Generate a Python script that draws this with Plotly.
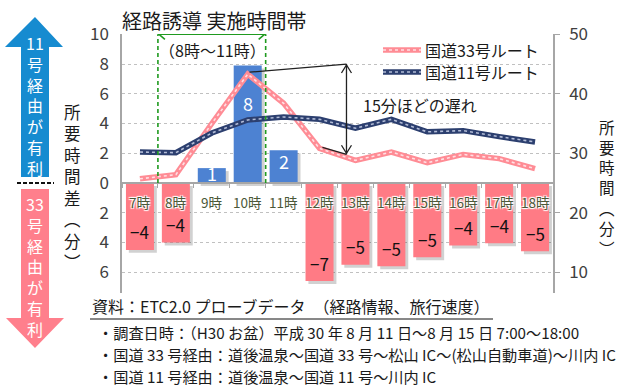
import plotly.graph_objects as go

# ---------------- data ----------------
hours = ["7時", "8時", "9時", "10時", "11時", "12時", "13時", "14時", "15時", "16時", "17時", "18時"]
diff_min = [-4.5, -4.0, 1.0, 7.9, 2.2, -6.6, -5.5, -5.6, -5.0, -4.2, -4.05, -4.6]
diff_labels = ["−4", "−4", "1", "8", "2", "−7", "−5", "−5", "−5", "−4", "−4", "−5"]
route33_min = [25.7, 26.4, 35.0, 43.3, 38.4, 30.8, 28.8, 30.2, 28.4, 29.8, 29.1, 27.4]
route11_min = [30.2, 30.1, 33.4, 35.6, 36.1, 35.7, 34.2, 35.7, 33.6, 33.8, 32.8, 31.9]
left_tickvals = [10, 8, 6, 4, 2, 0, -2, -4, -6]
left_ticktext = ["10", "8", "6", "4", "2", "0", "2", "4", "6"]
right_tickvals = [10, 20, 30, 40, 50]
series_names = ["国道33号ルート", "国道11号ルート"]

FONT = "Noto Sans CJK JP"
W, H = 618, 392
PL, PR, PT, PB = 122, 553, 34, 293

Y_RANGE = [-7.4, 10.02]
Y2_RANGE = [25 + 2.5 * Y_RANGE[0], 25 + 2.5 * Y_RANGE[1]]

PINK_BAR = "#ff7b85"
BLUE_BAR = "#4d82d2"
PINK_LINE = "#ff8c95"
NAVY_LINE = "#2c3f6f"
GREEN = "#1f9a1f"
GRAY = "#a6a6a6"


def px(x):
    return (x - PL) / (PR - PL)


def py(y):
    return (PB - y) / (PB - PT)


fig = go.Figure()

# bar shadows
fig.add_trace(go.Bar(
    x=hours, y=diff_min, base=-0.2, width=0.78, offset=-0.31,
    marker=dict(color="rgba(0,0,0,0.18)", line=dict(width=0)),
    hoverinfo="skip", showlegend=False))
# bars
fig.add_trace(go.Bar(
    x=hours, y=diff_min, width=0.78,
    marker=dict(color=[BLUE_BAR if v > 0 else PINK_BAR for v in diff_min], line=dict(width=0)),
    showlegend=False))

# lines (right axis)
DOT33 = "rgba(255,228,231,0.95)"
DOT11 = "rgba(185,195,220,0.95)"
for vals, col, dotcol in [(route33_min, PINK_LINE, DOT33), (route11_min, NAVY_LINE, DOT11)]:
    fig.add_trace(go.Scatter(x=hours, y=vals, yaxis="y2", mode="lines",
                             line=dict(color=col, width=5.5), showlegend=False))
    fig.add_trace(go.Scatter(x=hours, y=vals, yaxis="y2", mode="lines",
                             line=dict(color=dotcol, width=1.6, dash="dot"),
                             showlegend=False, hoverinfo="skip"))

annotations = []
shapes = []


def txt(x, y, s, size, color="#1a1a1a", xanchor="center", yanchor="middle", **kw):
    annotations.append(dict(xref="paper", yref="paper", x=px(x), y=py(y), text=s,
                            showarrow=False, xanchor=xanchor, yanchor=yanchor,
                            font=dict(family=FONT, size=size, color=color), **kw))


# hour labels and value labels
glow = "1px 1px 1px #fff, -1px -1px 1px #fff, 1px -1px 1px #fff, -1px 1px 1px #fff"
for h, v, lab in zip(hours, diff_min, diff_labels):
    annotations.append(dict(xref="x", yref="y", x=h, y=0, yshift=-19, text=h,
                            showarrow=False, borderpad=0,
                            font=dict(family=FONT, size=13.5, color="#4b5838", shadow=glow)))
    if v < 0:
        annotations.append(dict(xref="x", yref="y", x=h, y=v, yshift=18, text=lab,
                                showarrow=False, borderpad=0,
                                font=dict(family=FONT, size=17, color="#111")))
    else:
        annotations.append(dict(xref="x", yref="y", x=h, y=0.68 * v, text=lab,
                                showarrow=False, borderpad=0,
                                font=dict(family=FONT, size=18, color="#ffffff")))

# title and range note
txt(120, 20, "経路誘導 実施時間帯", 20, xanchor="left")
txt(212, 50, "（8時～11時）", 16)

# green range markers
for xb in [0.5, 3.5]:
    shapes.append(dict(type="line", xref="x", yref="y", x0=xb, x1=xb, y0=0, y1=10,
                       line=dict(color=GREEN, width=1.6, dash="4px,3px")))
shapes.append(dict(type="line", xref="x", yref="y", x0=0.5, x1=3.5, y0=10, y1=10,
                   line=dict(color=GREEN, width=1.6)))
shapes.append(dict(type="path", xref="x", yref="y", xsizemode="pixel", ysizemode="pixel",
                   xanchor=0.5, yanchor=10, path="M 7,5 L 1,0 L 7,-5",
                   line=dict(color=GREEN, width=1.6)))
shapes.append(dict(type="path", xref="x", yref="y", xsizemode="pixel", ysizemode="pixel",
                   xanchor=3.5, yanchor=10, path="M -7,5 L -1,0 L -7,-5",
                   line=dict(color=GREEN, width=1.6)))

# delay annotation
BLK = "#222222"
shapes.append(dict(type="line", xref="x", yref="y", x0=3.05, y0=7.45, x1=5.75, y1=8.0,
                   line=dict(color=BLK, width=1.3)))
shapes.append(dict(type="line", xref="x", yref="y", x0=5.08, y0=2.4, x1=5.75, y1=1.93,
                   line=dict(color=BLK, width=1.3)))
shapes.append(dict(type="line", xref="x", yref="y", x0=5.75, y0=1.93, x1=5.75, y1=8.0,
                   line=dict(color=BLK, width=1.3)))
shapes.append(dict(type="path", xref="x", yref="y", xsizemode="pixel", ysizemode="pixel",
                   xanchor=5.75, yanchor=8.0, path="M -5,-9 L 0,-1 L 5,-9",
                   line=dict(color=BLK, width=1.3)))
shapes.append(dict(type="path", xref="x", yref="y", xsizemode="pixel", ysizemode="pixel",
                   xanchor=5.75, yanchor=1.93, path="M -5,9 L 0,1 L 5,9",
                   line=dict(color=BLK, width=1.3)))
txt(420, 105, "15分ほどの遅れ", 16)

# manual legend
for i, (name, col, dotcol) in enumerate([(series_names[0], PINK_LINE, DOT33),
                                         (series_names[1], NAVY_LINE, DOT11)]):
    yy = 50 + 22 * i
    shapes.append(dict(type="line", xref="paper", yref="paper", x0=px(383), x1=px(421),
                       y0=py(yy), y1=py(yy), line=dict(color=col, width=5.5)))
    shapes.append(dict(type="line", xref="paper", yref="paper", x0=px(383), x1=px(421),
                       y0=py(yy), y1=py(yy), line=dict(color=dotcol, width=1.6, dash="dot")))
    txt(423, yy, name, 16, xanchor="left")


# left side arrows
def poly(points):
    return "M " + " L ".join(f"{px(x):.5f},{py(y):.5f}" for x, y in points) + " Z"


shapes.append(dict(type="path", xref="paper", yref="paper",
                   path=poly([(35, 17), (63, 47), (49, 47), (49, 177), (21, 177), (21, 47), (5, 47)]),
                   fillcolor="#168bd0", line=dict(width=0)))
shapes.append(dict(type="path", xref="paper", yref="paper",
                   path=poly([(21, 189), (49, 189), (49, 318), (64, 318), (35, 348), (6, 318), (21, 318)]),
                   fillcolor="#ff7f8c", line=dict(width=0)))
shapes.append(dict(type="line", xref="paper", yref="paper", x0=px(17), x1=px(54),
                   y0=py(183), y1=py(183), line=dict(color="#111", width=2, dash="4px,2px")))


def vtext(chars, x, yc, size, color):
    txt(x, yc, "<br>".join(chars), size, color=color)


vtext(["11", "号", "経", "由", "が", "有", "利"], 35, 105, 16, "#ffffff")
vtext(["33", "号", "経", "由", "が", "有", "利"], 35, 266, 16, "#ffffff")
vtext(["所", "要", "時", "間", "差", "︵", "分", "︶"], 72, 187, 16.5, "#1a1a1a")
vtext(["所", "要", "時", "間", "︵", "分", "︶"], 607, 188, 15.5, "#1a1a1a")

# source notes
txt(90, 306, "資料：ETC2.0 プローブデータ　（経路情報、旅行速度）", 16, xanchor="left")
shapes.append(dict(type="line", xref="paper", yref="paper", x0=px(90), x1=px(493),
                   y0=py(319), y1=py(319), line=dict(color="#111", width=1)))
txt(96, 332, "・調査日時：（H30 お盆）平成 30 年 8 月 11 日～8 月 15 日 7:00～18:00", 15.2, xanchor="left")
txt(96, 354, "・国道 33 号経由：道後温泉～国道 33 号～松山 IC～(松山自動車道)～川内 IC", 15.2, xanchor="left")
txt(96, 376, "・国道 11 号経由：道後温泉～国道 11 号～川内 IC", 15.2, xanchor="left")

zero_pos = (0 - Y_RANGE[0]) / (Y_RANGE[1] - Y_RANGE[0])

fig.update_layout(
    width=W, height=H,
    margin=dict(l=PL, r=W - PR, t=PT, b=H - PB, pad=0),
    paper_bgcolor="white", plot_bgcolor="white",
    barmode="overlay",
    font=dict(family=FONT, color="#404040"),
    showlegend=False,
    xaxis=dict(type="category", range=[-0.5, 11.5], anchor="free", position=zero_pos,
               showline=True, linecolor=GRAY, linewidth=1.5, ticks="outside",
               tickson="boundaries", ticklen=4, tickcolor=GRAY, showticklabels=False,
               showgrid=False, zeroline=False, fixedrange=True),
    yaxis=dict(range=Y_RANGE, tickvals=left_tickvals, ticktext=left_ticktext,
               tickfont=dict(family=FONT, size=17, color="#404040"),
               showgrid=True, gridcolor="#c0c0c0", griddash="3px,3px", gridwidth=1,
               zeroline=False, showline=True, linecolor=GRAY, linewidth=1.5,
               ticks="", ticklabelstandoff=8),
    yaxis2=dict(range=Y2_RANGE, overlaying="y", side="right", tickvals=right_tickvals,
                tickfont=dict(family=FONT, size=17, color="#404040"),
                showgrid=False, zeroline=False, showline=True, linecolor=GRAY, linewidth=1.5,
                ticks="outside", ticklen=5, tickcolor=GRAY, ticklabelstandoff=6),
    annotations=annotations,
    shapes=shapes,
)

fig.write_html("out.html")
